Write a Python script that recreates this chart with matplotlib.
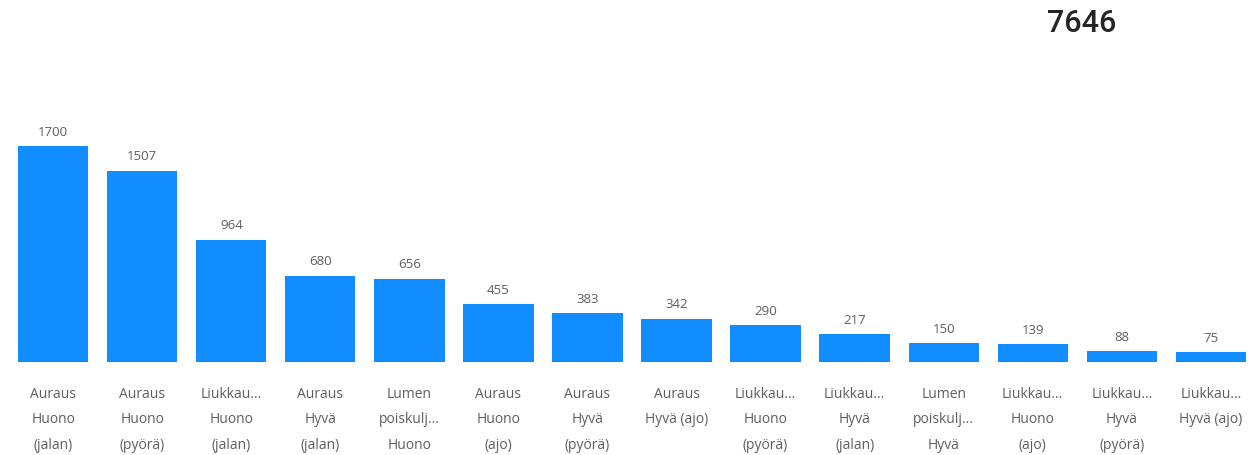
import matplotlib
matplotlib.use('Agg')
import matplotlib.pyplot as plt

# category labels as shown (already wrapped / truncated like the source)
categories = [
    "Auraus\nHuono\n(jalan)", "Auraus\nHuono\n(pyörä)", "Liukkau...\nHuono\n(jalan)",
    "Auraus\nHyvä\n(jalan)", "Lumen\npoiskulj...\nHuono", "Auraus\nHuono\n(ajo)",
    "Auraus\nHyvä\n(pyörä)", "Auraus\nHyvä (ajo)", "Liukkau...\nHuono\n(pyörä)",
    "Liukkau...\nHyvä\n(jalan)", "Lumen\npoiskulj...\nHyvä", "Liukkau...\nHuono\n(ajo)",
    "Liukkau...\nHyvä\n(pyörä)", "Liukkau...\nHyvä (ajo)",
]
values = [1700, 1507, 964, 680, 656, 455, 383, 342, 290, 217, 150, 139, 88, 75]
total = 7646

plt.rcParams['font.family'] = ['Open Sans', 'DejaVu Sans']

fig = plt.figure(figsize=(12.56, 4.56), dpi=100)
ax = fig.add_axes([18 / 1256, 1 - 363 / 456, 1228 / 1256, 216 / 456])

x = range(len(values))
ax.bar(x, values, width=0.79, color='#118DFF')
for i, v in enumerate(values):
    ax.text(i, v + 65, str(v), ha='center', va='bottom', fontsize=9.5,
            color='#605E5C', clip_on=False)

ax.set_xlim(-0.395, len(values) - 0.605)
ax.set_ylim(0, 1700)
ax.set_yticks([])
ax.set_xticks(list(x))
ax.set_xticklabels(categories, fontsize=10, color='#605E5C', linespacing=1.95)
ax.tick_params(axis='x', length=0, pad=17)
for s in ax.spines.values():
    s.set_visible(False)

fig.text(1082 / 1256, 1 - 24 / 456, str(total), ha='center', va='center',
         fontsize=22, color='#252423', fontfamily='Roboto', fontweight='medium')

fig.savefig('out.png', dpi=100, facecolor='white')
